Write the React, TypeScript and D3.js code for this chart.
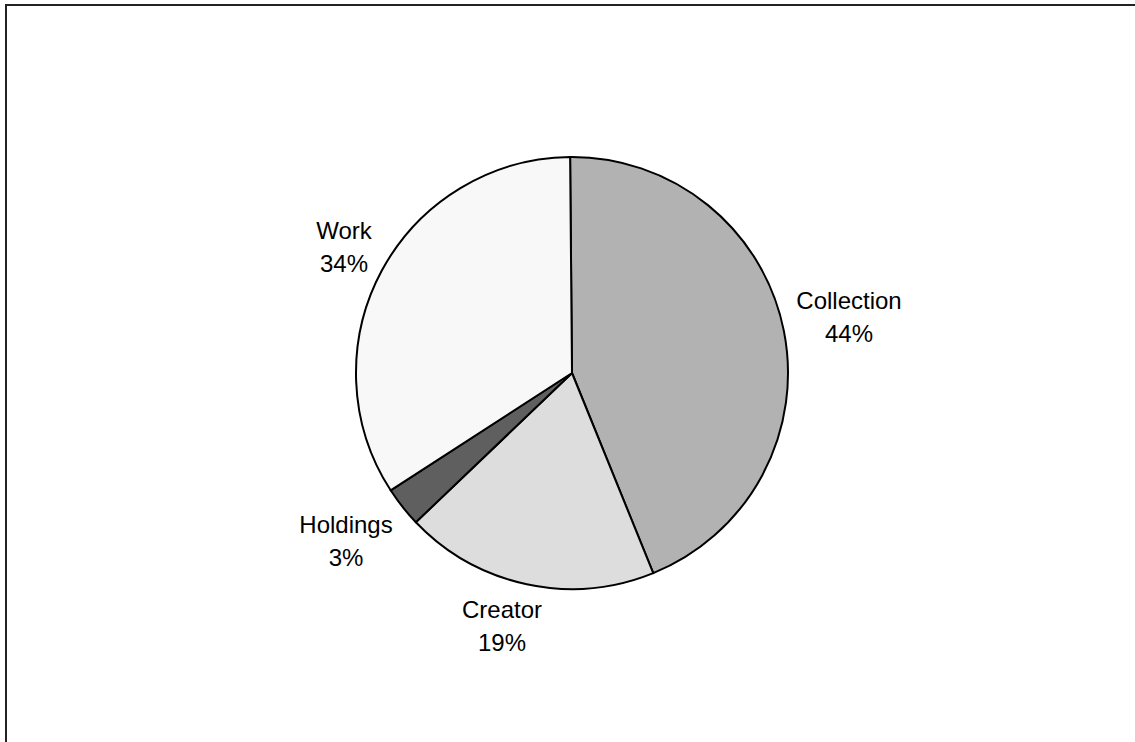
import React from "react";
import * as d3 from "d3";

const categories = ["Collection", "Creator", "Holdings", "Work"];
const values = [44, 19, 3, 34];
const colors = ["#b2b2b2", "#dddddd", "#5f5f5f", "#f8f8f8"];
const labelPos = [
  { x: 849, y: 309 },
  { x: 502, y: 618 },
  { x: 346, y: 533 },
  { x: 344, y: 239 },
];

export default function App() {
  const cx = 572;
  const cy = 373;
  const r = 216;
  const start = (-0.5 * Math.PI) / 180;
  const pie = d3
    .pie<number>()
    .sort(null)
    .startAngle(start)
    .endAngle(start + 2 * Math.PI)(values);
  const arc = d3.arc<d3.PieArcDatum<number>>().innerRadius(0).outerRadius(r);
  return (
    <svg
      width={1135}
      height={742}
      style={{ position: "absolute", left: 0, top: 0, background: "#fff" }}
      fontFamily="'Liberation Sans', Arial, sans-serif"
    >
      <rect x={6} y={5} width={1200} height={800} fill="#fff" stroke="#222" strokeWidth={2} />
      <g transform={`translate(${cx},${cy})`}>
        {pie.map((d, i) => (
          <path key={i} d={arc(d) || ""} fill={colors[i]} stroke="#000" strokeWidth={2} strokeLinejoin="round" />
        ))}
      </g>
      {categories.map((c, i) => (
        <text key={c} x={labelPos[i].x} y={labelPos[i].y} fontSize={24} textAnchor="middle" fill="#000">
          <tspan x={labelPos[i].x}>{c}</tspan>
          <tspan x={labelPos[i].x} dy={33}>{values[i]}%</tspan>
        </text>
      ))}
    </svg>
  );
}
